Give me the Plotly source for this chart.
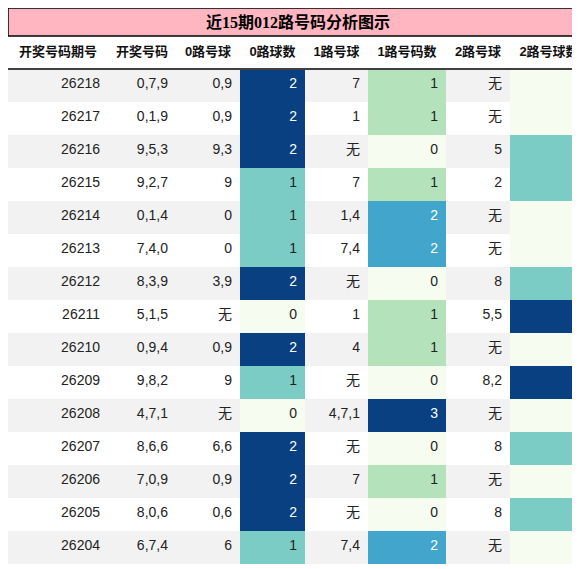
import plotly.graph_objects as go
from plotly.colors import sample_colorscale

title = "近15期012路号码分析图示"
headers = ["开奖号码期号", "开奖号码", "0路号球", "0路球数", "1路号球", "1路号码数", "2路号球", "2路号球数"]

periods = [26218, 26217, 26216, 26215, 26214, 26213, 26212, 26211, 26210, 26209, 26208, 26207, 26206, 26205, 26204]
draws = ["0,7,9", "0,1,9", "9,5,3", "9,2,7", "0,1,4", "7,4,0", "8,3,9", "5,1,5", "0,9,4", "9,8,2", "4,7,1", "8,6,6", "7,0,9", "8,0,6", "6,7,4"]
road0 = ["0,9", "0,9", "9,3", "9", "0", "0", "3,9", "无", "0,9", "9", "无", "6,6", "0,9", "0,6", "6"]
road0_n = [2, 2, 2, 1, 1, 1, 2, 0, 2, 1, 0, 2, 2, 2, 1]
road1 = ["7", "1", "无", "7", "1,4", "7,4", "无", "1", "4", "无", "4,7,1", "无", "7", "无", "7,4"]
road1_n = [1, 1, 0, 1, 2, 2, 0, 1, 1, 0, 3, 0, 1, 0, 2]
road2 = ["无", "无", "5", "2", "无", "无", "8", "5,5", "无", "8,2", "无", "8", "无", "8", "无"]
road2_n = [0, 0, 1, 1, 0, 0, 1, 2, 0, 2, 0, 1, 0, 1, 0]

W, H = 580, 569
TITLE_H = 28
ROW_H = 33

n = len(periods)
stripe = ["#f2f2f2" if i % 2 == 0 else "#ffffff" for i in range(n)]


def heat(vals):
    m = max(vals)
    fills = [sample_colorscale("GnBu", v / m)[0] for v in vals]
    fonts = ["#ffffff" if v / m > 0.6 else "#222222" for v in vals]
    return fills, fonts


f0, t0 = heat(road0_n)
f1, t1 = heat(road1_n)
f2, t2 = heat(road2_n)
dark = ["#222222"] * n

fig = go.Figure(go.Table(
    columnwidth=[100, 68, 64, 65, 63, 78, 64, 78],
    header=dict(
        values=[f"<b>{h}</b>" for h in headers],
        fill_color="white", line_color="white", height=ROW_H,
        align="center", font=dict(size=13, color="#111111", family="Liberation Sans, Noto Sans CJK SC"),
    ),
    cells=dict(
        values=[periods, draws, road0, road0_n, road1, road1_n, road2, road2_n],
        fill_color=[stripe, stripe, stripe, f0, stripe, f1, stripe, f2],
        font=dict(size=14, color=[dark, dark, dark, t0, dark, t1, dark, t2],
                  family="Liberation Sans, Noto Sans CJK SC"),
        line_color="rgba(0,0,0,0)", height=ROW_H, align="right",
    ),
    domain=dict(x=[0, 1], y=[0, 1 - TITLE_H / H]),
))

fig.add_shape(type="rect", xref="paper", yref="paper", x0=0, x1=1,
              y0=1 - TITLE_H / H, y1=1, fillcolor="#ffb6c1",
              line=dict(color="black", width=1.5))
fig.add_shape(type="line", xref="paper", yref="paper", x0=0, x1=1,
              y0=1 - (TITLE_H + ROW_H) / H, y1=1 - (TITLE_H + ROW_H) / H,
              line=dict(color="black", width=1.5), layer="above")
fig.add_annotation(text=f"<b>{title}</b>", xref="paper", yref="paper",
                   x=0.5, y=1 - TITLE_H / 2 / H, yanchor="middle", showarrow=False,
                   font=dict(size=16, color="black", family="Liberation Serif, Noto Sans CJK SC"))

fig.update_layout(width=W, height=H, margin=dict(l=0, r=0, t=0, b=0),
                  paper_bgcolor="white")
fig.write_html("out.html")
